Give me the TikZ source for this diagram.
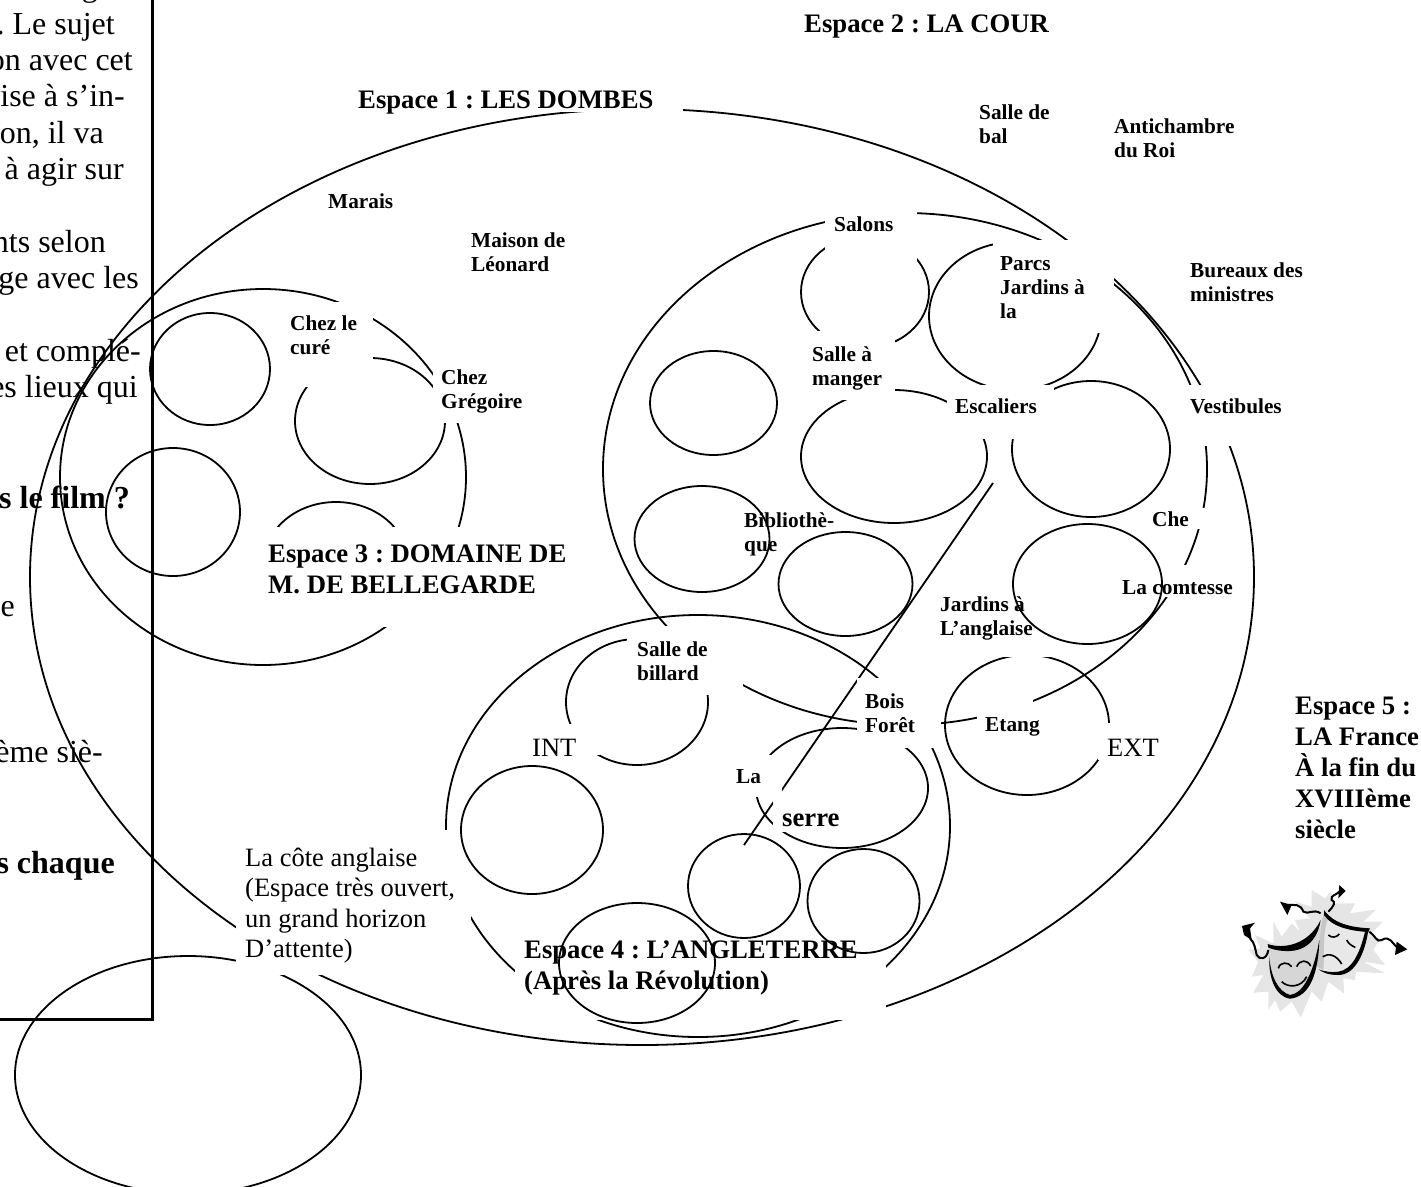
\documentclass[tikz,border=0pt]{standalone}
\usepackage{fontspec}
\setmainfont{Liberation Serif}
\frenchspacing
\tikzset{
  x=1pt,y=-1pt,
  curve/.style={draw=black,line width=1.8pt},
  maskbox/.style={fill=white,draw=none},
  txt/.style={inner sep=0pt,align=left,anchor=north west,execute at begin node=\strut},
  lab/.style={txt,font=\fontsize{21.3}{24}\selectfont\bfseries},
  big/.style={txt,font=\fontsize{26.7}{31}\selectfont\bfseries},
  reg/.style={txt,font=\fontsize{26.5}{30.3}\selectfont},
  body/.style={inner sep=0pt,anchor=base east,font=\fontsize{32}{36}\selectfont},
  bodyb/.style={body,font=\fontsize{32}{36}\selectfont\bfseries},
}
\begin{document}
\begin{tikzpicture}
\useasboundingbox (0,0) rectangle (1421,1186);
\clip (0,0) rectangle (1421,1186);
% left column of text
\node[body] (t0) at (98,-3.5) {g};
\node[body] (t1) at (115,34) {. Le sujet};
\node[body] (t2) at (133,70) {on avec cet};
\node[body] (t3) at (125,106.5) {vise à s’in-};
\node[body] (t4) at (104,143) {on, il va};
\node[body] (t5) at (124,179) {à agir sur};
\node[body] (t6) at (106,252) {nts selon};
\node[body] (t7) at (139,288) {ge avec les};
\node[body] (t8) at (141,361) {et complé-};
\node[body] (t9) at (138,397) {es lieux qui};
\node[bodyb] (t10) at (130,508) {s le film ?};
\node[body] (t11) at (15,616) {e};
\node[body] (t12) at (103,762) {ème siè-};
\node[bodyb] (t13) at (115,873) {s chaque};
\draw[line width=2.8pt] (152.5,0) -- (152.5,1019.5) -- (0,1019.5);
% shapes that the white label boxes cut
\draw[curve] (642,577) ellipse [x radius=612,y radius=468];
\draw[curve] (905,469) ellipse [x radius=302,y radius=256];
\draw[curve] (263,477) ellipse [x radius=203,y radius=188];
\draw[curve] (698,826) ellipse [x radius=252,y radius=211];
\draw[curve] (188,1075) ellipse [x radius=173,y radius=119];
\draw[curve] (370,421) ellipse [x radius=75,y radius=63];
\draw[curve] (336,563) ellipse [x radius=72,y radius=61];
\draw[curve] (865,292) ellipse [x radius=64,y radius=56];
\draw[curve] (1015,316) ellipse [x radius=86,y radius=74];
\draw[curve] (894,456.5) ellipse [x radius=93,y radius=66.5];
\draw[curve] (1091,449) ellipse [x radius=79,y radius=68];
\draw[curve] (637,702) ellipse [x radius=71,y radius=63];
\draw[curve] (842,788) ellipse [x radius=86,y radius=60];
\draw[curve] (1027,725) ellipse [x radius=82,y radius=70];
\draw[curve] (993,483) -- (744,845);
% white label boxes
\fill[maskbox] (355,80) rectangle (683,112);
\fill[maskbox] (285,302) rectangle (373,387);
\fill[maskbox] (433,355) rectangle (530,423);
\fill[maskbox] (262,527) rectangle (570,627);
\fill[maskbox] (236,830) rectangle (471,975);
\fill[maskbox] (515,925) rectangle (886,1020);
\fill[maskbox] (825,205) rectangle (917,262);
\fill[maskbox] (993,240) rectangle (1114,333);
\fill[maskbox] (805,331) rectangle (895,400);
\fill[maskbox] (947,385) rectangle (1054,439);
\fill[maskbox] (1180,385) rectangle (1240,446);
\fill[maskbox] (1145,508) rectangle (1210,529);
\fill[maskbox] (1118,565) rectangle (1232,597);
\fill[maskbox] (935,590) rectangle (1054,657);
\fill[maskbox] (627,626) rectangle (743,695);
\fill[maskbox] (857,678) rectangle (941,748);
\fill[maskbox] (977,690) rectangle (1033,740);
\fill[maskbox] (1098,723) rectangle (1180,760);
\fill[maskbox] (525,724) rectangle (600,755);
\fill[maskbox] (725,755) rectangle (782,797);
\fill[maskbox] (773,797) rectangle (845,832);
% shapes above the boxes
\draw[curve] (210,369) ellipse [x radius=60,y radius=56];
\draw[curve] (173,512) ellipse [x radius=67,y radius=64];
\draw[curve] (713.5,403) ellipse [x radius=63.5,y radius=52];
\draw[curve] (702,539) ellipse [x radius=67.5,y radius=53];
\draw[curve] (845.5,584) ellipse [x radius=67,y radius=52];
\draw[curve] (1087.5,584) ellipse [x radius=74.5,y radius=60];
\draw[curve] (532,830) ellipse [x radius=71,y radius=64];
\draw[curve] (744,886) ellipse [x radius=56,y radius=52];
\draw[curve] (863.5,901) ellipse [x radius=56,y radius=52];
\draw[curve] (637,963) ellipse [x radius=78,y radius=60];
% labels
\node[big] (e1) at (358,87) {Espace 1 : LES DOMBES};
\node[big] (e2) at (804,11) {Espace 2 : LA COUR};
\node[big] (e3) at (268,545) {Espace 3 : DOMAINE DE\\M. DE BELLEGARDE};
\node[big] (e4) at (524,941) {Espace 4 : L’ANGLETERRE\\(Après la Révolution)};
\node[big] (e5) at (1295,697) {Espace 5 :\\LA France\\À la fin du\\XVIIIème\\siècle};
\node[big] (serre) at (782,805) {serre};
\node[reg] (cote) at (245,848) {La côte anglaise\\(Espace très ouvert,\\un grand horizon\\D’attente)};
\node[reg] (int) at (532,735) {INT};
\node[reg] (ext) at (1107,735) {EXT};
\node[lab] (bal) at (979,104.5) {Salle de\\bal};
\node[lab] (anti) at (1114,118.5) {Antichambre\\du Roi};
\node[lab] (marais) at (328,191) {Marais};
\node[lab] (leon) at (471,232.5) {Maison de\\Léonard};
\node[lab] (cure) at (290,315.5) {Chez le\\curé};
\node[lab] (greg) at (441,369.5) {Chez\\Grégoire};
\node[lab] (salons) at (834,214) {Salons};
\node[lab] (parcs) at (1000,256) {Parcs\\Jardins à\\la};
\node[lab] (bur) at (1190,262.5) {Bureaux des\\ministres};
\node[lab] (sam) at (812,346.5) {Salle à\\manger};
\node[lab] (esc) at (955,396) {Escaliers};
\node[lab] (vest) at (1190,396) {Vestibules};
\node[lab] (bib) at (744,512.5) {Bibliothè-\\que};
\node[lab] (che) at (1152,509) {Che};
\node[lab] (comt) at (1122,577) {La comtesse};
\node[lab] (jard) at (940,596.5) {Jardins à\\L’anglaise};
\node[lab] (bill) at (637,641.5) {Salle de\\billard};
\node[lab] (bois) at (865,693.5) {Bois\\Forêt};
\node[lab] (etang) at (985,714) {Etang};
\node[lab] (la) at (736,766) {La};
% theatre masks
\begin{scope}[shift={(1200,860)},scale=1/3]
\fill[black!10] (335,90)--(375,115)--(392,95)--(405,130)--(465,130)--(450,160)--(530,148)--(490,185)--(548,185)--(510,225)--(540,235)--(520,270)--(555,315)--(490,305)--(555,340)--(468,335)--(465,360)--(430,355)--(432,400)--(385,365)--(365,425)--(335,395)--(302,472)--(275,425)--(240,455)--(225,420)--(205,450)--(205,395)--(160,398)--(190,345)--(155,350)--(175,305)--(145,270)--(180,265)--(165,225)--(220,250)--(220,185)--(245,230)--(275,190)--(300,215)--(285,180)--(330,175)--(285,125)--(335,140)--cycle;
\fill[black!9] (372,155) .. controls (400,195) and (450,210) .. (510,210) .. controls (495,280) and (465,340) .. (415,342) .. controls (385,342) and (365,335) .. (350,320) -- cycle;
\fill[black!22] (372,155) .. controls (360,200) and (355,270) .. (350,320) -- (370,330) .. controls (375,280) and (365,220) .. (385,175) -- cycle;
\fill[black] (372,150) .. controls (400,190) and (450,202) .. (510,205) -- (505,216) .. controls (450,213) and (395,200) .. (372,165) -- cycle;
\fill[black] (505,210) .. controls (495,280) and (465,345) .. (415,345) .. controls (385,345) and (370,338) .. (355,328) .. controls (375,335) and (395,338) .. (415,335) .. controls (455,330) and (480,280) .. (495,215) -- cycle;
\fill[black!16] (205,255) .. controls (255,275) and (330,265) .. (362,195) .. controls (360,270) and (345,400) .. (270,412) .. controls (220,405) and (200,320) .. (205,255) -- cycle;
\fill[black] (203,252) .. controls (250,268) and (325,255) .. (362,180) .. controls (358,215) and (335,270) .. (270,273) .. controls (245,274) and (222,270) .. (205,263) -- cycle;
\fill[black] (208,290) .. controls (212,350) and (235,395) .. (270,405) .. controls (310,400) and (340,340) .. (358,240) .. controls (355,340) and (330,410) .. (270,416) .. controls (225,410) and (205,350) .. (208,290) -- cycle;
\draw[line width=2pt] (205,270) .. controls (200,300) and (178,300) .. (170,285) .. controls (165,265) and (165,250) .. (150,235);
\fill[black] (126,198) -- (165,188) -- (150,205) -- (155,240) -- (132,225) -- cycle;
\draw[line width=2pt] (362,160) .. controls (340,145) and (325,165) .. (310,155) .. controls (300,130) and (285,135) .. (262,135);
\fill[black] (240,125) -- (275,135) -- (262,165) -- cycle;
\draw[line width=2pt] (385,155) .. controls (400,140) and (410,125) .. (395,120) .. controls (390,105) and (410,105) .. (418,95);
\fill[black] (418,75) -- (437,93) -- (415,115) -- cycle;
\draw[line width=2pt] (508,215) .. controls (525,225) and (530,250) .. (545,240) .. controls (570,225) and (575,250) .. (595,265);
\fill[black] (590,245) -- (622,268) -- (585,285) -- cycle;
\draw[line width=1.6pt] (235,325) .. controls (240,305) and (265,305) .. (275,320);
\draw[line width=1.6pt] (290,320) .. controls (300,298) and (322,298) .. (332,318);
\draw[line width=1.6pt] (245,365) .. controls (265,385) and (305,382) .. (320,350);
\draw[line width=1.6pt] (385,225) .. controls (395,235) and (410,232) .. (418,222);
\draw[line width=1.6pt] (440,240) .. controls (445,250) and (455,258) .. (466,262);
\draw[line width=1.6pt] (368,290) .. controls (385,278) and (410,285) .. (425,312);
\end{scope}
\end{tikzpicture}
\end{document}
